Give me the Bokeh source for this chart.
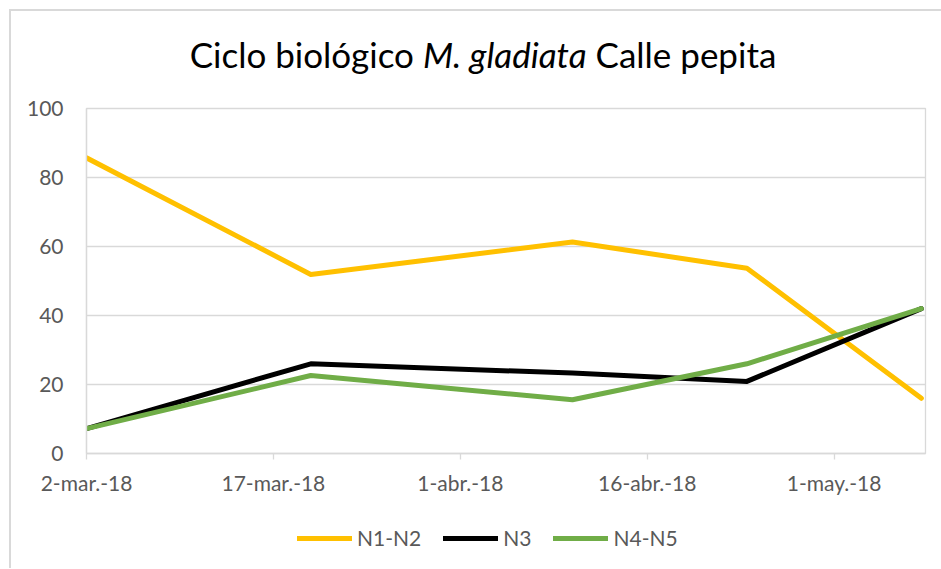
from datetime import datetime, timedelta
from bokeh.plotting import figure
from bokeh.layouts import column
from bokeh.models import (FixedTicker, Range1d, Legend, LegendItem, Div,
                          ColumnDataSource)
from bokeh.embed import file_html
from bokeh.resources import INLINE

# ---- data ----
dates = ["2018-03-02", "2018-03-20", "2018-04-10", "2018-04-24", "2018-05-08"]
n1_n2 = [85.7, 51.9, 61.3, 53.7, 16.0]
n3 = [7.2, 26.0, 23.3, 20.9, 42.0]
n4_n5 = [7.2, 22.6, 15.6, 26.0, 42.0]
series_names = ["N1-N2", "N3", "N4-N5"]
series_colors = ["#FFC000", "#000000", "#70AD47"]
tick_dates = ["2018-03-02", "2018-03-17", "2018-04-01", "2018-04-16", "2018-05-01"]
tick_labels = ["2-mar.-18", "17-mar.-18", "1-abr.-18", "16-abr.-18", "1-may.-18"]
y_ticks = [0, 20, 40, 60, 80, 100]
title_parts = ["Ciclo biológico", "M. gladiata", "Calle pepita"]

EPOCH = datetime(1970, 1, 1)


def to_ms(s):
    return float((datetime.strptime(s, "%Y-%m-%d") - EPOCH).total_seconds() * 1000)


x = [datetime.strptime(d, "%Y-%m-%d") for d in dates]
source = ColumnDataSource(dict(x=x, a=n1_n2, b=n3, c=n4_n5))

FONT = "Lato"
GREY = "#d9d9d9"
TXT = "#595959"

OFF = 11                       # content starts at page (11, 11)
FL, FT, FR, FB = 86, 108, 925, 453   # frame edges in page pixels
DIV_H = 70
W = 930
AXIS_H = 50                    # space below the frame for x tick labels
LEG_H = 568 - (FB + AXIS_H)    # height of the legend strip

title_html = (
    f'<div style="width:{W}px;height:{DIV_H}px;box-sizing:border-box;'
    f'padding-top:22px;padding-left:14px;text-align:center;'
    f'font-family:Lato;font-size:35px;line-height:42px;color:#000000;">'
    f'{title_parts[0]} <i>{title_parts[1]}</i> {title_parts[2]}</div>'
)
title_div = Div(text=title_html, width=W, height=DIV_H, margin=0)

p = figure(frame_width=FR - FL, frame_height=FB - FT,
           output_backend="svg", toolbar_location=None,
           x_axis_type="datetime", margin=0,
           min_border_left=FL - OFF, min_border_top=FT - OFF - DIV_H,
           min_border_right=15, min_border_bottom=AXIS_H)

p.x_range = Range1d(x[0], x[-1] + timedelta(hours=8))
p.y_range = Range1d(0, 100)

p.background_fill_color = "white"
p.border_fill_color = "white"
p.outline_line_color = GREY
p.outline_line_width = 1.3

p.xgrid.grid_line_color = None
p.ygrid.grid_line_color = GREY
p.ygrid.grid_line_width = 1.3

tick_ms = [to_ms(t) for t in tick_dates]
p.xaxis.ticker = FixedTicker(ticks=tick_ms)
p.xaxis.major_label_overrides = {t: l for t, l in zip(tick_ms, tick_labels)}
p.yaxis.ticker = FixedTicker(ticks=y_ticks)

for ax in (p.xaxis, p.yaxis):
    ax.axis_line_color = GREY
    ax.axis_line_width = 1.3
    ax.major_tick_line_color = GREY
    ax.major_tick_line_width = 1.3
    ax.minor_tick_line_color = None
    ax.major_label_text_font = FONT
    ax.major_label_text_font_size = "21px"
    ax.major_label_text_color = TXT

p.xaxis.major_tick_in = 0
p.xaxis.major_tick_out = 6
p.xaxis.major_label_standoff = 10
p.yaxis.major_tick_in = 0
p.yaxis.major_tick_out = 0
p.yaxis.major_label_standoff = 23

for col, color in zip(["a", "b", "c"], series_colors):
    p.line("x", col, source=source, line_color=color, line_width=5,
           line_cap="round", line_join="round")

# ---- legend strip (separate small figure, same styled series) ----
pl = figure(width=W, height=LEG_H, output_backend="svg", toolbar_location=None,
            x_axis_location=None, y_axis_location=None, min_border=0, margin=0,
            x_range=p.x_range, y_range=p.y_range)
pl.grid.visible = False
pl.outline_line_color = None
pl.background_fill_color = "white"
pl.border_fill_color = "white"
leg_renderers = []
for col, color in zip(["a", "b", "c"], series_colors):
    r = pl.line("x", col, source=source, line_color=color, line_width=5,
                line_cap="round", line_join="round")
    r.visible = False
    leg_renderers.append(r)

legend = Legend(items=[LegendItem(label=n, renderers=[r])
                       for n, r in zip(series_names, leg_renderers)],
                orientation="horizontal",
                location=(211, (568 - 537) - 13),
                glyph_width=55, glyph_height=20, label_standoff=5, spacing=22,
                label_text_font=FONT, label_text_font_size="21px",
                label_text_color=TXT, border_line_color=None,
                background_fill_alpha=0, padding=0, margin=0,
                click_policy="none")
pl.add_layout(legend, "center")

layout = column(title_div, p, pl, spacing=0, margin=0)
layout.styles = {"margin-left": "9px", "margin-top": "9px",
                 "border-left": "2px solid #d9d9d9",
                 "border-top": "2px solid #d9d9d9"}

open("out.html", "w").write(file_html(layout, INLINE))
